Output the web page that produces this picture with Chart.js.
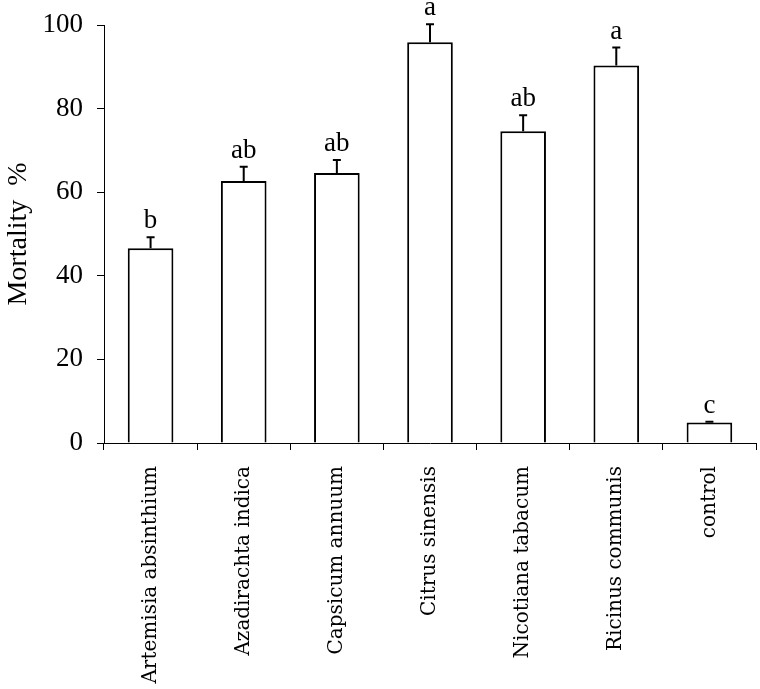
<!DOCTYPE html>
<html>
<head>
<meta charset="utf-8">
<script src="https://cdn.jsdelivr.net/npm/chart.js@4"></script>
<style>
  html, body { margin: 0; padding: 0; background: #fff; }
  #wrap { width: 760px; height: 689px; }
</style>
</head>
<body>
<div id="wrap"><canvas id="c" width="760" height="689"></canvas></div>
<script>
// values
const categories = [
  "Artemisia absinthium", "Azadirachta indica", "Capsicum annuum",
  "Citrus sinensis", "Nicotiana tabacum", "Ricinus communis", "control"
];
const mortality = [46.6, 62.7, 64.6, 95.9, 74.6, 90.3, 4.9];
const stdErr = [2.6, 3.4, 3.1, 4.3, 3.8, 4.3, 0.2];
const letters = ["b", "ab", "ab", "a", "ab", "a", "c"];
const yTicks = [0, 20, 40, 60, 80, 100];

// draws the upper error bar and the significance letter over each bar
const errorBars = {
  id: "errorBars",
  afterDatasetsDraw(chart) {
    const { ctx, scales: { x, y } } = chart;
    ctx.save();
    ctx.strokeStyle = "#000";
    ctx.lineWidth = 2;
    ctx.fillStyle = "#000";
    ctx.font = "27px 'Liberation Serif', serif";
    ctx.textAlign = "center";
    ctx.textBaseline = "alphabetic";
    mortality.forEach((v, i) => {
      const cx = x.getPixelForValue(i);
      const yTop = y.getPixelForValue(v);
      const yErr = y.getPixelForValue(v + stdErr[i]);
      ctx.beginPath();
      ctx.moveTo(cx, yTop);
      ctx.lineTo(cx, yErr);
      ctx.moveTo(cx - 4, yErr);
      ctx.lineTo(cx + 4, yErr);
      ctx.stroke();
      ctx.fillText(letters[i], cx, yErr - 9);
    });
    ctx.restore();
  }
};

new Chart(document.getElementById("c"), {
  type: "bar",
  data: {
    labels: categories,
    datasets: [{
      data: mortality,
      backgroundColor: "#fff",
      borderColor: "#000",
      borderWidth: 2,
      borderSkipped: "bottom",
      barPercentage: 0.49,
      categoryPercentage: 1
    }]
  },
  options: {
    responsive: false,
    animation: false,
    events: [],
    layout: { padding: { top: 25, right: 4, left: 2, bottom: 0 } },
    plugins: { legend: { display: false }, tooltip: { enabled: false } },
    scales: {
      x: {
        offset: true,
        grid: { display: true, offset: true, drawOnChartArea: false, drawTicks: true, tickLength: 7, color: "#000", lineWidth: 1 },
        border: { display: true, color: "#000", width: 1 },
        ticks: {
          color: "#000",
          font: { family: "'DejaVu Serif', serif", size: 20 },
          minRotation: 90,
          maxRotation: 90,
          autoSkip: false,
          padding: 16
        },
        afterFit(scale) { scale.height = 246; }
      },
      y: {
        min: 0,
        max: 100,
        afterBuildTicks(scale) { scale.ticks = yTicks.map(v => ({ value: v })); },
        grid: { display: true, drawOnChartArea: false, drawTicks: true, tickLength: 7, color: "#000", lineWidth: 1 },
        border: { display: true, color: "#000", width: 1 },
        ticks: {
          color: "#000",
          font: { family: "'Liberation Serif', serif", size: 27 },
          padding: 14
        },
        title: {
          display: true,
          text: "Mortality  %",
          color: "#000",
          font: { family: "'Liberation Serif', serif", size: 28 },
          padding: { top: 0, bottom: 2 }
        },
        afterFit(scale) {
          scale.width = 102;
          scale.paddingTop = 0;
          scale.paddingBottom = 0;
        }
      }
    }
  },
  plugins: [errorBars]
});
</script>
</body>
</html>
